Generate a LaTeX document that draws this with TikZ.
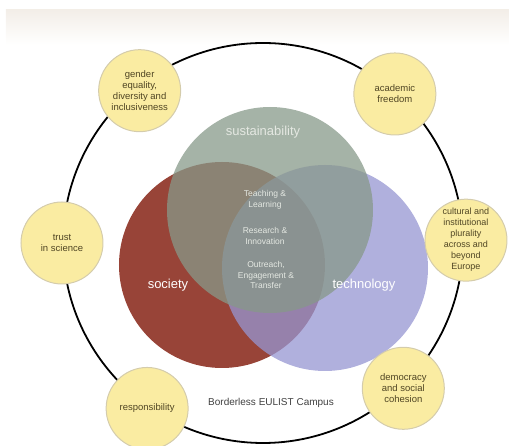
\documentclass[tikz,border=0pt]{standalone}
\usepackage{fontspec}
\setmainfont{Liberation Sans}
\usepackage{xcolor}
\usetikzlibrary{positioning}

\definecolor{bandtop}{RGB}{243,238,232}
\definecolor{sustgreen}{RGB}{135,153,137}
\definecolor{socred}{RGB}{152,68,56}
\definecolor{techblue}{RGB}{150,150,210}
\definecolor{valuefill}{RGB}{250,236,162}
\definecolor{valueedge}{RGB}{212,204,172}
\definecolor{valuetext}{RGB}{80,70,36}
\definecolor{coretext}{RGB}{228,232,226}

\begin{document}
\begin{tikzpicture}[
    x=1pt, y=1pt,
    field/.style={circle, minimum size=206pt, inner sep=0pt},
    value/.style={circle, draw=valueedge, line width=1pt, fill=valuefill, minimum size=82pt, inner sep=0pt, align=center, text=valuetext, font=\fontsize{9.5}{11}\selectfont},
    fieldlabel/.style={text=white, font=\fontsize{13}{15}\selectfont},
    core/.style={align=center, text=coretext, font=\fontsize{8.5}{10.5}\selectfont},
]
\useasboundingbox (-263,-203) rectangle (246,243);

% top band
\shade[top color=bandtop, bottom color=white] (-257,198) rectangle (246,233);

% campus ring
\node[circle, draw=black, line width=1.8pt, minimum size=400pt, inner sep=0pt] (campus) at (0,0) {};

% three fields
\node[field, fill=socred] (society) at (-41,-22) {};
\node[field, fill=techblue, fill opacity=0.75] (technology) at (62,-25) {};
\node[field, fill=sustgreen, fill opacity=0.75] (sustainability) at (7,33) {};

\node[fieldlabel, text=coretext] (sustlabel) at (0,111) {sustainability};
\node[fieldlabel] (soclabel) at (-95,-42) {society};
\node[fieldlabel] (techlabel) at (101,-42) {technology};

% missions in the core
\node[core] (teaching) at (2,43) {Teaching \&\\Learning};
\node[core] (research) at (2,7) {Research \&\\Innovation};
\node[core] (outreach) at (3,-32) {Outreach,\\Engagement \&\\Transfer};

% values on the ring
\node[value] (gender) at (129:196) {gender\\equality,\\diversity and\\inclusiveness};
\node[value] (freedom) at (48.5:199) {academic\\freedom};
\node[value, font=\fontsize{9}{11}\selectfont] (plurality) at (0.8:203) {cultural and\\institutional\\plurality\\across and\\beyond\\Europe};
\node[value] (trust) at (180:201) {trust\\in science};
\node[value] (responsibility) at (235:202) {responsibility};
\node[value] (democracy) at (314:202) {democracy\\and social\\cohesion};

\node[text=black!75, font=\fontsize{10}{12}\selectfont] (borderless) at (8,-160) {Borderless EULIST Campus};

\end{tikzpicture}
\end{document}
